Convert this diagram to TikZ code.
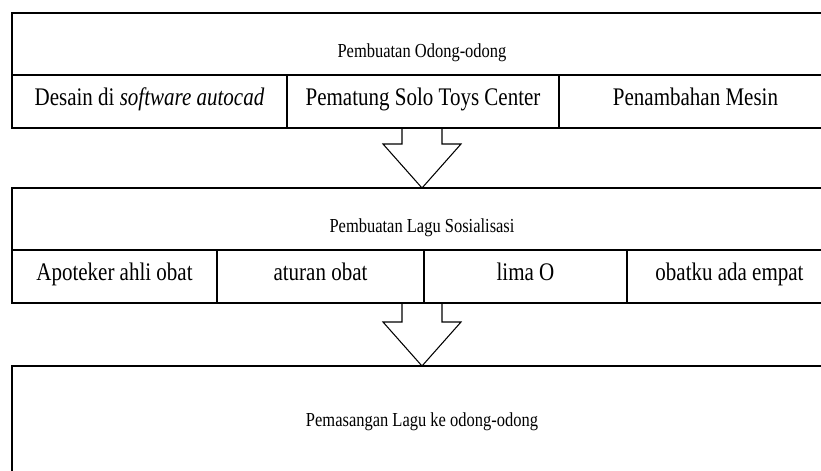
\documentclass[tikz,border=0pt]{standalone}
\usepackage{fontspec}
\setmainfont{Liberation Serif}[FakeStretch=0.83]
\usetikzlibrary{positioning,fit,calc}
\tikzset{
  cell/.style={draw,line width=0.7pt,inner sep=0pt,outer sep=0pt,minimum height=1.06cm,text height=0.7em,text depth=0.22em,font=\fontsize{14.4}{16}\selectfont},
  headbox/.style={draw,line width=0.7pt,inner sep=0pt,outer sep=0pt,minimum width=16.4cm,minimum height=1.24cm},
  headtext/.style={inner sep=0pt,font=\fontsize{11.3}{13}\selectfont},
  outerbox/.style={draw,line width=1.1pt,inner sep=0pt,outer sep=0pt},
  blockarrow/.style={line width=0.6pt,line join=miter}
}
\begin{document}
\begin{tikzpicture}
\useasboundingbox (0,0) rectangle (16.42,9.4);
\clip (0,0) rectangle (16.42,9.4);
% odong-odong block
\node[headbox,anchor=north west] (odongHead) at (0.24,9.14) {};
\node[headtext] (odongTitle) at ([yshift=-0.18cm]odongHead.center) {Pembuatan Odong-odong};
\node[cell,minimum width=5.5cm,anchor=north west] (odongA) at (odongHead.south west) {Desain di \textit{software autocad}};
\node[cell,minimum width=5.44cm,right=0pt of odongA] (odongB) {Pematung Solo Toys Center};
\node[cell,minimum width=5.46cm,right=0pt of odongB] (odongC) {Penambahan Mesin};
\node[outerbox,fit=(odongHead)(odongC)] (odongBox) {};
% lagu block
\node[headbox,anchor=north west] (laguHead) at (0.24,5.64) {};
\node[headtext] (laguTitle) at ([yshift=-0.18cm]laguHead.center) {Pembuatan Lagu Sosialisasi};
\node[cell,minimum width=4.1cm,anchor=north west] (laguA) at (laguHead.south west) {Apoteker ahli obat};
\node[cell,minimum width=4.14cm,right=0pt of laguA] (laguB) {aturan obat};
\node[cell,minimum width=4.06cm,right=0pt of laguB] (laguC) {lima O};
\node[cell,minimum width=4.1cm,right=0pt of laguC] (laguD) {obatku ada empat};
\node[outerbox,fit=(laguHead)(laguD)] (laguBox) {};
% pemasangan block
\node[outerbox,headtext,minimum width=16.4cm,minimum height=2.24cm,anchor=north west] (pasangBox) at (0.24,2.08) {Pemasangan Lagu ke odong-odong};
% block arrows
\foreach \src/\dst in {odongBox/laguBox,laguBox/pasangBox}
  \draw[blockarrow] ($(\src.south)+(-0.4,0)$) |- ($(\dst.north)+(-0.78,0.88)$) -- (\dst.north) -- ++(0.78,0.88) -| ($(\src.south)+(0.4,0)$);
\end{tikzpicture}
\end{document}
